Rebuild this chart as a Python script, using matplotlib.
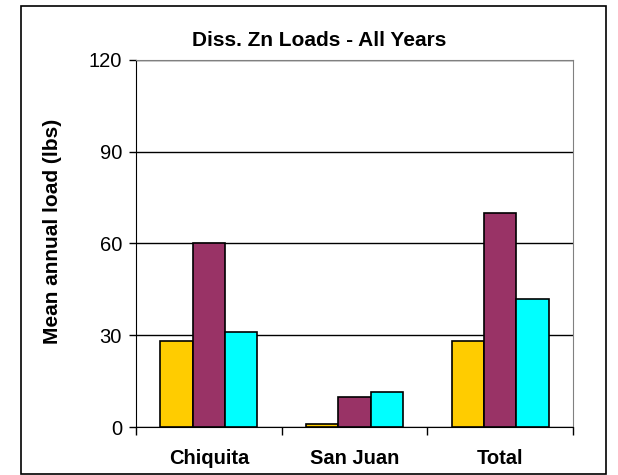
import numpy as np
import matplotlib
matplotlib.use('Agg')
import matplotlib.pyplot as plt
from matplotlib.patches import Rectangle

plt.rcParams['font.family'] = ['Liberation Sans', 'DejaVu Sans']

sites = ['Chiquita', 'San Juan', 'Total']
series_a = [28.1, 1.1, 28.1]
series_b = [60.0, 9.7, 69.9]
series_c = [31.0, 11.4, 42.0]
colors = ['#FFCC00', '#993366', '#00FFFF']

fig = plt.figure(figsize=(6.18, 4.75), dpi=100)
ax = fig.add_axes([0.220, 0.101, 0.707, 0.773])

# outer chart border
fig.patches.append(Rectangle((21 / 618, 1 - 474 / 475), 585 / 618, 468 / 475,
                             transform=fig.transFigure, fill=False,
                             edgecolor='black', linewidth=1.2))

x = np.arange(len(sites))
w = 1 / 4.5
for i, (vals, c) in enumerate(zip([series_a, series_b, series_c], colors)):
    ax.bar(x + (i - 1) * w, vals, width=w, color=c, edgecolor='black',
           linewidth=1.2, zorder=3)

ax.set_xlim(-0.5, 2.5)
ax.set_ylim(0, 120)
ax.set_yticks([0, 30, 60, 90, 120])
ax.tick_params(axis='y', labelsize=14.5, length=5, width=1, direction='out', pad=5)
ax.yaxis.grid(True, color='black', linewidth=1)
ax.set_axisbelow(True)

ax.set_xticks([-0.5, 0.5, 1.5, 2.5])
ax.set_xticklabels([])
ax.set_xticks(x, minor=True)
ax.set_xticklabels(sites, minor=True, fontsize=14.5, fontweight='bold')
ax.tick_params(axis='x', which='major', length=5.5, width=1, direction='out')
ax.tick_params(axis='x', which='minor', length=0, pad=16)

for side in ['top', 'right']:
    ax.spines[side].set_color('#808080')
ax.spines['left'].set_color('black')
ax.spines['bottom'].set_color('black')

fig.text(53 / 618, 1 - 231 / 475, 'Mean annual load (lbs)', rotation=90,
         ha='center', va='center', fontsize=15, fontweight='bold')
fig.text(319 / 618, 1 - 46 / 475, 'Diss. Zn Loads - All Years',
         ha='center', va='baseline', fontsize=15, fontweight='bold')

fig.savefig('out.png', dpi=100)
